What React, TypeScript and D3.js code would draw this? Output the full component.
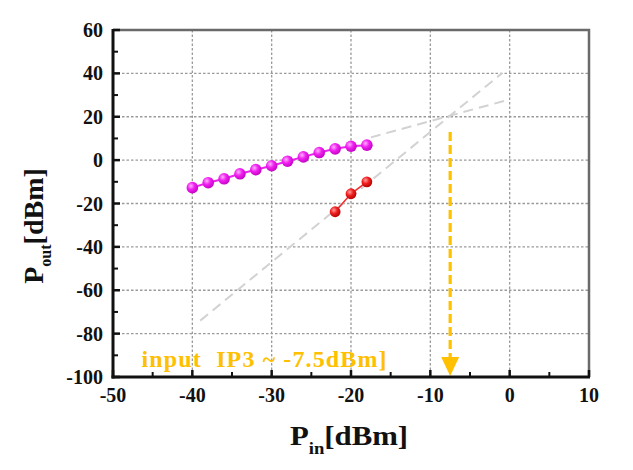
import React from "react";
import * as d3 from "d3";

// Fundamental output (magenta) and IM3 output (red)
const pinFund = [-40, -38, -36, -34, -32, -30, -28, -26, -24, -22, -20, -18];
const poutFund = [-12.7, -10.4, -8.6, -6.3, -4.4, -2.6, -0.5, 1.5, 3.5, 5.2, 6.4, 6.9];
const pinIM3 = [-22, -20, -18];
const poutIM3 = [-23.8, -15.5, -10];

// Extrapolated (dashed grey) lines
const fundFitX = [-17.5, 0];
const fundFitY = [10.5, 28];
const im3FitX = [-39, -1];
const im3FitY = [-74, 40];

// IIP3 annotation
const iip3 = -7.5;
const arrowTop = 13;
const arrowTip = -99.5;
const noteText = "input  IP3 ~ -7.5dBm]";
const noteX = -46.4;
const noteY = -95.6;

const xTicks = [-50, -40, -30, -20, -10, 0, 10];
const yTicks = [60, 40, 20, 0, -20, -40, -60, -80, -100];
const xMinor = [-45, -35, -25, -15, -5, 5];
const yMinor = [50, 30, 10, -10, -30, -50, -70, -90];

const W = 633;
const H = 470;
const margin = { top: 30, right: 44, bottom: 93, left: 113 };
const FONT = "'Liberation Serif', 'Times New Roman', serif";
const ORANGE = "#FFC000";

export default function App() {
  const x = d3.scaleLinear().domain([-50, 10]).range([margin.left, W - margin.right]);
  const y = d3.scaleLinear().domain([-100, 60]).range([H - margin.bottom, margin.top]);
  const [x0, x1] = x.range();
  const [y0, y1] = y.range();

  const line = d3
    .line<[number, number]>()
    .x(d => x(d[0]))
    .y(d => y(d[1]));

  const fund = pinFund.map((p, i) => [p, poutFund[i]] as [number, number]);
  const im3 = pinIM3.map((p, i) => [p, poutIM3[i]] as [number, number]);
  const fundFit = fundFitX.map((p, i) => [p, fundFitY[i]] as [number, number]);
  const im3Fit = im3FitX.map((p, i) => [p, im3FitY[i]] as [number, number]);

  const ax = x(iip3);
  const tipY = y(arrowTip);
  const headH = 19;
  const headW = 9;

  return (
    <div style={{ position: "fixed", left: 0, top: 0 }}>
      <svg width={W} height={H} style={{ display: "block", background: "#fff" }}>
        <defs>
          <radialGradient id="ballM" cx="0.38" cy="0.35" r="0.7">
            <stop offset="0" stopColor="#ffb0ff" />
            <stop offset="0.45" stopColor="#f020f0" />
            <stop offset="1" stopColor="#c000c0" />
          </radialGradient>
          <radialGradient id="ballR" cx="0.38" cy="0.35" r="0.7">
            <stop offset="0" stopColor="#ffa0a0" />
            <stop offset="0.45" stopColor="#f02020" />
            <stop offset="1" stopColor="#b00000" />
          </radialGradient>
        </defs>

        {/* grid */}
        {xTicks.slice(1, -1).map(t => (
          <line key={"gx" + t} x1={x(t)} x2={x(t)} y1={y1} y2={y0}
            stroke="#9a9a9a" strokeWidth={1.3} strokeDasharray="2.5,2" />
        ))}
        {yTicks.slice(1, -1).map(t => (
          <line key={"gy" + t} x1={x0} x2={x1} y1={y(t)} y2={y(t)}
            stroke="#9a9a9a" strokeWidth={1.3} strokeDasharray="2.5,2" />
        ))}

        {/* top and right frame */}
        <path d={`M${x0},${y1}H${x1}V${y0}`} fill="none" stroke="#6a6a6a" strokeWidth={2.5} />

        {/* extrapolation lines */}
        <path d={line(fundFit) ?? ""} fill="none" stroke="#d2d2d2" strokeWidth={2} strokeDasharray="10,6" />
        <path d={line(im3Fit) ?? ""} fill="none" stroke="#d2d2d2" strokeWidth={2} strokeDasharray="10,6" />

        {/* data */}
        <path d={line(fund) ?? ""} fill="none" stroke="#ee22ee" strokeWidth={2} />
        {fund.map((d, i) => (
          <circle key={"f" + i} cx={x(d[0])} cy={y(d[1])} r={5.8} fill="url(#ballM)" />
        ))}
        <path d={line(im3) ?? ""} fill="none" stroke="#f03030" strokeWidth={1.6} />
        {im3.map((d, i) => (
          <circle key={"r" + i} cx={x(d[0])} cy={y(d[1])} r={5.4} fill="url(#ballR)" />
        ))}

        {/* IIP3 arrow */}
        <line x1={ax} x2={ax} y1={y(arrowTop)} y2={tipY - headH + 2}
          stroke={ORANGE} strokeWidth={3.2} strokeDasharray="9,4" />
        <path d={`M${ax - headW},${tipY - headH}L${ax + headW},${tipY - headH}L${ax},${tipY}Z`} fill={ORANGE} />

        <text x={x(noteX)} y={y(noteY)} fill={ORANGE} fontFamily={FONT} fontWeight="bold"
          fontSize={24} textLength={245} lengthAdjust="spacing" style={{ whiteSpace: "pre" }}>
          {noteText}
        </text>

        {/* axes */}
        <line x1={x0} x2={x0} y1={y1 - 1} y2={y0 + 1.5} stroke="#111" strokeWidth={3} />
        <line x1={x0 - 1.5} x2={x1 + 1} y1={y0} y2={y0} stroke="#111" strokeWidth={3} />
        {yTicks.map(t => (
          <line key={"ty" + t} x1={x0} x2={x0 + 7} y1={y(t)} y2={y(t)} stroke="#111" strokeWidth={2.5} />
        ))}
        {yMinor.map(t => (
          <line key={"my" + t} x1={x0} x2={x0 + 5} y1={y(t)} y2={y(t)} stroke="#111" strokeWidth={2} />
        ))}
        {xTicks.map(t => (
          <line key={"tx" + t} x1={x(t)} x2={x(t)} y1={y0} y2={y0 - 7} stroke="#111" strokeWidth={2.5} />
        ))}
        {xMinor.map(t => (
          <line key={"mx" + t} x1={x(t)} x2={x(t)} y1={y0} y2={y0 - 5} stroke="#111" strokeWidth={2} />
        ))}

        {/* tick labels */}
        {yTicks.map(t => (
          <text key={"ly" + t} x={x0 - 10} y={y(t)} dy="0.35em" textAnchor="end"
            fontFamily={FONT} fontWeight="bold" fontSize={20} fill="#111">
            {t}
          </text>
        ))}
        {xTicks.map(t => (
          <text key={"lx" + t} x={x(t)} y={y0 + 25} textAnchor="middle"
            fontFamily={FONT} fontWeight="bold" fontSize={20} fill="#111">
            {t}
          </text>
        ))}

        {/* axis titles */}
        <text transform={`translate(349,445) scale(1.1,0.95)`} textAnchor="middle" fontFamily={FONT}
          fontWeight="bold" fontSize={28} fill="#111">
          P<tspan fontSize={17} dy={9}>in</tspan>
          <tspan dy={-9}>[dBm]</tspan>
        </text>
        <text transform={`translate(43,226) rotate(-90)`} textAnchor="middle"
          fontFamily={FONT} fontWeight="bold" fontSize={28} fill="#111">
          P<tspan fontSize={16} dy={8}>out</tspan>
          <tspan dy={-8}>[dBm]</tspan>
        </text>
      </svg>
    </div>
  );
}
